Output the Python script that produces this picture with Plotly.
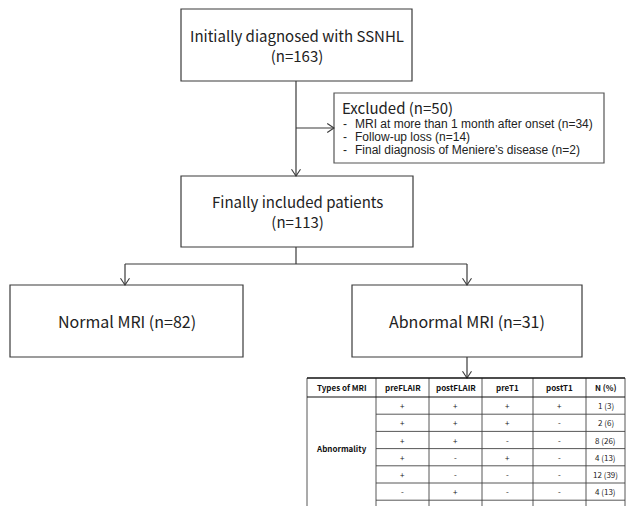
import plotly.graph_objects as go

W, H = 627, 506
FONT = "Noto Sans CJK KR"
ITEM_FONT = "Liberation Sans"
LINE = "#3a3a3a"
TXT = "#222222"

# ---- data ----
box_labels = ["Initially diagnosed with SSNHL<br>(n=163)",
              "Finally included patients<br>(n=113)",
              "Normal MRI (n=82)",
              "Abnormal MRI (n=31)"]
box_font_sizes = [15, 15, 16, 16]
excluded_title = "Excluded (n=50)"
excluded_items = ["MRI at more than 1 month after onset (n=34)",
                  "Follow-up loss (n=14)",
                  "Final diagnosis of Meniere’s disease (n=2)"]
table_header = ["Types of MRI", "preFLAIR", "postFLAIR", "preT1", "postT1", "N (%)"]
row_group = "Abnormality"
preFLAIR = ["+", "+", "+", "+", "+", "-"]
postFLAIR = ["+", "+", "+", "-", "-", "+"]
preT1 = ["+", "+", "-", "+", "-", "-"]
postT1 = ["+", "-", "-", "-", "-", "-"]
n_pct = ["1 (3)", "2 (6)", "8 (26)", "4 (13)", "12 (39)", "4 (13)"]

# ---- layout geometry ----
boxes = [(181, 9, 412, 81), (181, 176, 413, 247), (10, 285, 243, 357), (352, 285, 582, 357)]
exbox = (334, 93, 604, 163)

shapes = []
annotations = []

def line(x0, y0, x1, y1, w=1.2, color=LINE):
    shapes.append(dict(type="line", x0=x0, y0=y0, x1=x1, y1=y1, xref="x", yref="y",
                       line=dict(color=color, width=w)))

def arrowhead(x, y, direction):
    s = 4.5
    if direction == "down":
        path = f"M {x-s},{y-s*1.5} L {x},{y} L {x+s},{y-s*1.5}"
    else:
        path = f"M {x-s*1.5},{y-s} L {x},{y} L {x-s*1.5},{y+s}"
    shapes.append(dict(type="path", path=path, xref="x", yref="y",
                       line=dict(color=LINE, width=1.1)))

for (x0, y0, x1, y1), lab, fs in zip(boxes, box_labels, box_font_sizes):
    shapes.append(dict(type="rect", x0=x0, y0=y0, x1=x1, y1=y1, xref="x", yref="y",
                       line=dict(color=LINE, width=1.2), fillcolor="white"))
    annotations.append(dict(x=(x0 + x1) / 2, y=(y0 + y1) / 2, xref="x", yref="y",
                            text=lab, showarrow=False, font=dict(family=FONT, size=fs, color=TXT),
                            align="center"))

# excluded box
x0, y0, x1, y1 = exbox
shapes.append(dict(type="rect", x0=x0, y0=y0, x1=x1, y1=y1, xref="x", yref="y",
                   line=dict(color="#555555", width=1.2), fillcolor="white"))
annotations.append(dict(x=x0 + 7, y=107, xref="x", yref="y", text=excluded_title,
                        showarrow=False, xanchor="left", borderpad=0,
                        font=dict(family=FONT, size=15, color=TXT)))
for i, it in enumerate(excluded_items):
    yy = 123.5 + i * 13.4
    annotations.append(dict(x=x0 + 8, y=yy, xref="x", yref="y", text="-",
                            showarrow=False, xanchor="left", borderpad=0,
                            font=dict(family=ITEM_FONT, size=12, color=TXT)))
    annotations.append(dict(x=x0 + 20, y=yy, xref="x", yref="y", text=it,
                            showarrow=False, xanchor="left", borderpad=0,
                            font=dict(family=ITEM_FONT, size=12, color=TXT)))

# connectors
cx = 296
line(cx, 81, cx, 176)
arrowhead(cx, 176, "down")
line(cx, 128, 334, 128)
arrowhead(334, 128, "right")
line(cx, 247, cx, 264)
line(125, 264, 467, 264)
line(125, 264, 125, 285)
arrowhead(125, 285, "down")
line(467, 264, 467, 285)
arrowhead(467, 285, "down")
line(467, 357, 467, 378)
arrowhead(467, 378, "down")

# table
cols = [307, 376, 429, 482, 533, 586, 625]
top, hdr_bot, rh = 378, 397, 17.2
n = len(n_pct)
bottom = hdr_bot + n * rh
for c in cols:
    line(c, top, c, bottom + 10, w=0.9, color="#444444")
for i in range(1, n + 1):
    yy = hdr_bot + i * rh
    line(cols[1], yy, cols[-1], yy, w=0.9, color="#444444")
line(cols[0], top, cols[-1], top, w=1.5, color="#111111")
line(cols[0], hdr_bot, cols[-1], hdr_bot, w=1.2, color="#111111")
hfont = dict(family=FONT, size=8, color="#111111")
dfont = dict(family=FONT, size=8, color="#1a1a1a")
for j, h in enumerate(table_header):
    annotations.append(dict(x=(cols[j] + cols[j + 1]) / 2, y=(top + hdr_bot) / 2, xref="x", yref="y",
                            text=f"<b>{h}</b>", showarrow=False, font=hfont))
annotations.append(dict(x=(cols[0] + cols[1]) / 2, y=hdr_bot + 3 * rh, xref="x", yref="y",
                        text=f"<b>{row_group}</b>", showarrow=False, font=hfont))
for i in range(n):
    yy = hdr_bot + (i + 0.5) * rh
    for j, col in enumerate([preFLAIR, postFLAIR, preT1, postT1, n_pct]):
        annotations.append(dict(x=(cols[j + 1] + cols[j + 2]) / 2, y=yy, xref="x", yref="y",
                                text=col[i], showarrow=False, font=dfont))

fig = go.Figure()
fig.update_layout(
    width=W, height=H, margin=dict(l=0, r=0, t=0, b=0),
    paper_bgcolor="white", plot_bgcolor="white",
    xaxis=dict(range=[0, W], visible=False, fixedrange=True),
    yaxis=dict(range=[H, 0], visible=False, fixedrange=True),
    shapes=shapes, annotations=annotations, showlegend=False,
)
fig.write_html("out.html", config=dict(displayModeBar=False),
               post_script="document.body.style.margin='0';document.body.style.overflow='hidden';")
